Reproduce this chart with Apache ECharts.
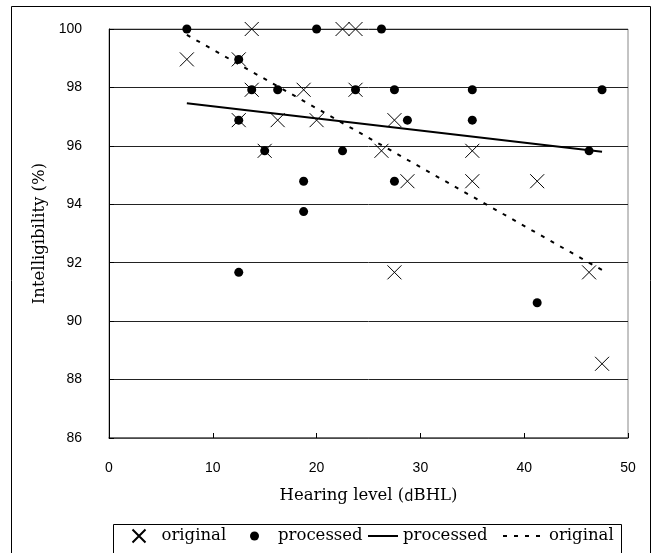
<!DOCTYPE html>
<html>
<head>
<meta charset="utf-8">
<script src="https://cdn.jsdelivr.net/npm/echarts@6/dist/echarts.min.js"></script>
<style>
  html, body { margin: 0; padding: 0; background: #fff; }
  #chart { width: 656px; height: 553px; }
</style>
</head>
<body>
<div id="chart"></div>
<script>
// tick labels
const xTicks = [0, 10, 20, 30, 40, 50];
const yTicks = [86, 88, 90, 92, 94, 96, 98, 100];

// original (x markers)
const origX = [7.5, 13.75, 12.5, 13.75, 12.5, 16.25, 15, 22.5, 23.75, 18.75, 23.75,
               20, 27.5, 26.25, 35, 28.75, 35, 27.5, 41.25, 46.25, 47.5];
const origY = [98.96, 100, 98.96, 97.92, 96.88, 96.88, 95.83, 100, 100, 97.92, 97.92,
               96.88, 96.88, 95.83, 95.83, 94.79, 94.79, 91.67, 94.79, 91.67, 88.54];

// processed (dots)
const procX = [7.5, 12.5, 13.75, 16.25, 12.5, 15, 18.75, 18.75, 12.5, 20, 26.25,
               23.75, 27.5, 35, 28.75, 35, 22.5, 27.5, 41.25, 46.25, 47.5];
const procY = [100, 98.96, 97.92, 97.92, 96.88, 95.83, 94.79, 93.75, 91.67, 100, 100,
               97.92, 97.92, 97.92, 96.88, 96.88, 95.83, 94.79, 90.63, 95.83, 97.92];

// trend lines
const fitProcX = [7.5, 47.5];
const fitProcY = [97.46, 95.8];
const fitOrigX = [7.5, 47.5];
const fitOrigY = [99.8, 91.75];

const labels = {
  origPts: "original",
  procPts: "processed",
  procFit: "processed",
  origFit: "original"
};

const zip = (xs, ys) => xs.map((x, i) => [x, ys[i]]);
const serif = "DejaVu Serif";
const crossIcon = "path://M0,0L10,10M10,0L0,10";

const chart = echarts.init(document.getElementById("chart"));

function legendAt(name, left, w, h, padLeft, hideSymbol) {
  const lg = {
    data: [name],
    left: left,
    top: 527,
    padding: 0,
    itemWidth: w,
    itemHeight: h,
    selectedMode: false,
    formatter: n => labels[n],
    textStyle: {
      fontFamily: serif,
      fontSize: 16.5,
      color: "#000",
      lineHeight: 18,
      padding: [0, 0, 0, padLeft]
    }
  };
  // line legends: show only the stroke, no marker in the middle
  if (hideSymbol) {
    lg.itemStyle = { color: "rgba(0,0,0,0)", borderColor: "rgba(0,0,0,0)", borderWidth: 0 };
  }
  return lg;
}

const option = {
  backgroundColor: "#fff",
  animation: false,
  grid: {
    left: 109,
    right: 28,
    top: 29,
    bottom: 115,
    show: true,
    borderColor: "#888",
    borderWidth: 1,
    outerBoundsMode: "none"
  },
  graphic: [
    {
      type: "rect",
      shape: { x: 11.5, y: 6.5, width: 639, height: 600 },
      style: { fill: "none", stroke: "#000", lineWidth: 1 },
      silent: true
    },
    {
      type: "rect",
      shape: { x: 113.5, y: 524.5, width: 508, height: 40 },
      style: { fill: "none", stroke: "#000", lineWidth: 1 },
      silent: true
    }
  ],
  legend: [
    legendAt("origPts", 130, 13, 13, 11, false),
    legendAt("procPts", 250, 9, 9, 14, false),
    legendAt("procFit", 367, 30, 14, 0, true),
    legendAt("origFit", 502, 41, 14, 0, true)
  ],
  xAxis: {
    type: "value",
    min: xTicks[0],
    max: xTicks[xTicks.length - 1],
    interval: xTicks[1] - xTicks[0],
    name: "{a|Hearing level (}{b|d}{a|BHL)}",
    nameLocation: "middle",
    nameGap: 49,
    nameTextStyle: {
      rich: {
        a: { fontFamily: serif, fontSize: 16.5, color: "#000" },
        b: { fontFamily: "Noto Sans CJK JP", fontSize: 15, color: "#000" }
      }
    },
    axisLine: { show: true, lineStyle: { color: "#555", width: 1.5 } },
    axisTick: { show: true, inside: true, length: 5, lineStyle: { color: "#000" } },
    axisLabel: {
      margin: 23,
      fontFamily: "Liberation Sans",
      fontSize: 14,
      color: "#000"
    },
    splitLine: { show: false }
  },
  yAxis: {
    type: "value",
    min: yTicks[0],
    max: yTicks[yTicks.length - 1],
    interval: yTicks[1] - yTicks[0],
    name: "Intelligibility (%)",
    nameLocation: "middle",
    nameRotate: 90,
    nameGap: 60,
    nameTextStyle: { fontFamily: serif, fontSize: 16.5, color: "#000" },
    axisLine: { show: true, lineStyle: { color: "#000", width: 1 } },
    axisTick: { show: true, inside: true, length: 5, lineStyle: { color: "#000" } },
    axisLabel: {
      margin: 27,
      fontFamily: "Liberation Sans",
      fontSize: 14,
      color: "#000"
    },
    splitLine: { show: true, lineStyle: { color: "#222", width: 1 } }
  },
  series: [
    {
      name: "origPts",
      type: "scatter",
      symbol: crossIcon,
      symbolSize: 14,
      itemStyle: { color: "none", borderColor: "#000", borderWidth: 1, opacity: 1 },
      data: zip(origX, origY),
      z: 3
    },
    {
      name: "procPts",
      type: "scatter",
      symbol: "circle",
      symbolSize: 9,
      itemStyle: { color: "#000", opacity: 1 },
      data: zip(procX, procY),
      z: 4
    },
    {
      name: "procFit",
      type: "line",
      symbol: "none",
      lineStyle: { color: "#000", width: 2, type: "solid" },
      itemStyle: { color: "#000" },
      data: zip(fitProcX, fitProcY),
      z: 5
    },
    {
      name: "origFit",
      type: "line",
      symbol: "none",
      lineStyle: { color: "#000", width: 2, type: [4, 7] },
      itemStyle: { color: "#000" },
      data: zip(fitOrigX, fitOrigY),
      z: 5
    }
  ]
};

chart.setOption(option);
</script>
</body>
</html>
